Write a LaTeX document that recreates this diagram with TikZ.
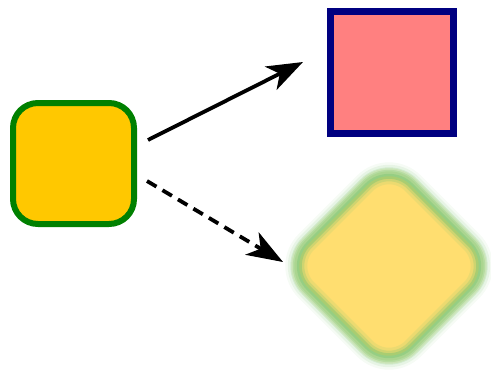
\documentclass[tikz,border=0pt]{standalone}
\usetikzlibrary{arrows.meta,calc}
\definecolor{boxyellow}{RGB}{255,200,0}
\definecolor{boxgreen}{RGB}{0,128,0}
\definecolor{boxpink}{RGB}{255,128,128}
\definecolor{boxnavy}{RGB}{0,0,128}
\definecolor{softyellow}{RGB}{255,222,112}
\definecolor{softgreen}{RGB}{125,198,115}
\tikzset{
  x=1pt, y=-1pt,
  roundbox/.style={rectangle, rounded corners=25pt, minimum size=121pt, inner sep=0pt,
    fill=boxyellow, draw=boxgreen, line width=6pt},
  squarebox/.style={rectangle, minimum width=123pt, minimum height=122pt, inner sep=0pt,
    fill=boxpink, draw=boxnavy, line width=7pt},
  softbox/.style={rectangle, rounded corners=31pt, minimum size=145pt, inner sep=0pt,
    rotate=45, fill=softyellow,
    preaction={draw=softgreen, line width=28pt, opacity=0.07},
    preaction={draw=softgreen, line width=23pt, opacity=0.12},
    preaction={draw=softgreen, line width=18pt, opacity=0.20},
    preaction={draw=softgreen, line width=13pt, opacity=0.32},
    postaction={draw=softgreen!55!softyellow, line width=16pt, opacity=0.25},
    postaction={draw=softgreen!80!softyellow, line width=10pt, opacity=0.35},
    postaction={draw=softgreen, line width=5pt, opacity=0.45}},
  link/.style={line width=3.8pt, -{Stealth[length=36pt,width=26pt,inset=10pt]}},
  dashlink/.style={link, dash pattern=on 11pt off 7pt}
}
\begin{document}
\begin{tikzpicture}
  \useasboundingbox (0,0) rectangle (491,373);
  \node[roundbox]  (a) at (73.5,163.5) {};
  \node[squarebox] (b) at (392,72.5) {};
  \node[softbox]   (c) at (389,266) {};
  \draw[link]     ($(a.east)+(11,-23.5)$) -- ($(b.west)+(-24,-10.5)$);
  \draw[dashlink] ($(a.east)+(10,17.5)$)  -- ($(c.center)+(-106,-4)$);
\end{tikzpicture}
\end{document}
